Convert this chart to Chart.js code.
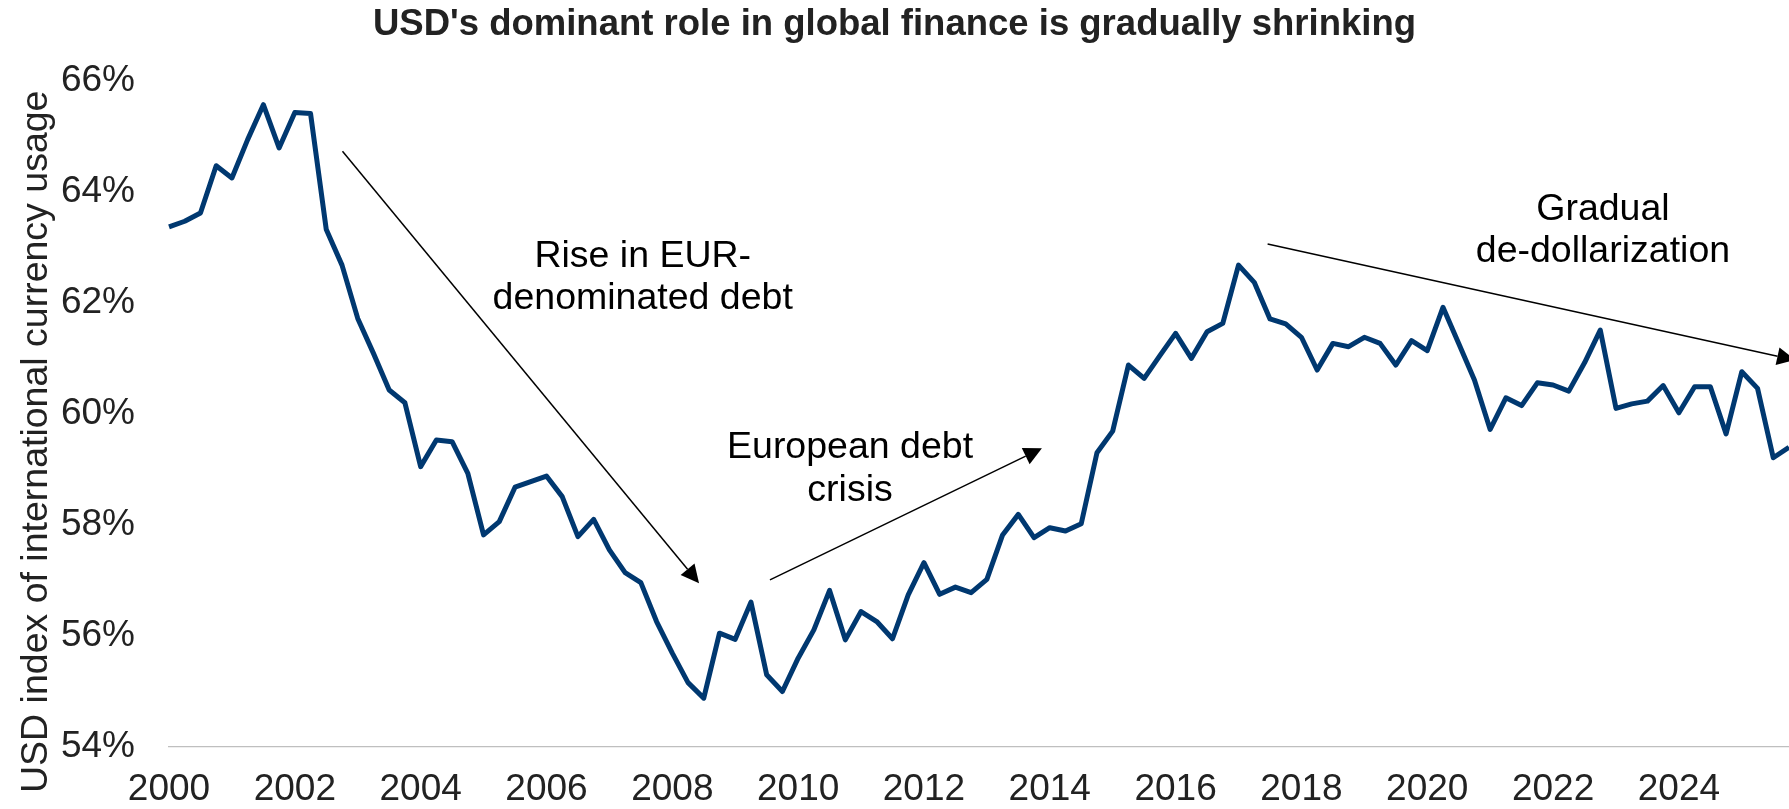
<!DOCTYPE html>
<html>
<head>
<meta charset="utf-8">
<title>USD index of international currency usage</title>
<script src="https://cdn.jsdelivr.net/npm/chart.js@4.4.1/dist/chart.umd.min.js"></script>
<style>
  html, body { margin: 0; padding: 0; background: #fff; }
  #wrap { width: 1789px; height: 809px; position: relative; }
</style>
</head>
<body>
<div id="wrap"><canvas id="usdChart"></canvas></div>
<script>
// quarterly series, 2000 Q1 .. 2025 Q4
const years = [2000, 2001, 2002, 2003, 2004, 2005, 2006, 2007, 2008, 2009, 2010, 2011, 2012,
               2013, 2014, 2015, 2016, 2017, 2018, 2019, 2020, 2021, 2022, 2023, 2024, 2025];
const quarters = years.flatMap(y => ['Q1', 'Q2', 'Q3', 'Q4'].map(q => y + ' ' + q));

// USD index of international currency usage, %
const usdShare = [
  63.37, 63.47, 63.62, 64.47, 64.25, 64.94, 65.57, 64.79, 65.43, 65.41,
  63.32, 62.68, 61.72, 61.09, 60.43, 60.20, 59.05, 59.53, 59.50, 58.93,
  57.82, 58.06, 58.68, 58.78, 58.88, 58.51, 57.79, 58.10, 57.55, 57.14,
  56.96, 56.26, 55.69, 55.16, 54.88, 56.05, 55.94, 56.61, 55.30, 55.00,
  55.60, 56.11, 56.82, 55.93, 56.44, 56.26, 55.95, 56.74, 57.32, 56.75,
  56.88, 56.78, 57.02, 57.82, 58.19, 57.77, 57.95, 57.89, 58.02, 59.30,
  59.69, 60.88, 60.64, 61.05, 61.45, 61.00, 61.48, 61.63, 62.68, 62.37,
  61.71, 61.62, 61.38, 60.79, 61.27, 61.21, 61.38, 61.27, 60.88, 61.32,
  61.14, 61.92, 61.27, 60.61, 59.72, 60.29, 60.15, 60.56, 60.52, 60.41,
  60.92, 61.51, 60.10, 60.18, 60.23, 60.51, 60.02, 60.49, 60.49, 59.64,
  60.76, 60.46, 59.21, 59.40
];

// year labels, one every 8 quarters
const tickYears = ['2000', '2002', '2004', '2006', '2008', '2010', '2012',
                   '2014', '2016', '2018', '2020', '2022', '2024'];

// callouts, anchored in (quarter index, %) units
const notes = [
  { lines: ['Rise in EUR-', 'denominated debt'], x: 30.12, y: 62.65 },
  { lines: ['European debt', 'crisis'], x: 43.3, y: 59.20 },
  { lines: ['Gradual', 'de-dollarization'], x: 91.17, y: 63.50 }
];
const arrows = [
  { from: [11.03, 64.73], to: [33.70, 56.95] },
  { from: [38.21, 57.01], to: [55.50, 59.38] },
  { from: [69.85, 63.06], to: [103.39, 60.97] }
];

const FONT = '"Liberation Sans", Arial, sans-serif';
Chart.defaults.font.family = FONT;

const callouts = {
  id: 'callouts',
  afterDatasetsDraw(chart) {
    const { ctx, chartArea, scales: { x, y } } = chart;
    ctx.save();
    ctx.strokeStyle = '#000';
    ctx.fillStyle = '#000';
    ctx.lineWidth = 1.5;
    const head = 18, half = 9;
    arrows.forEach(a => {
      const x0 = x.getPixelForValue(a.from[0]), y0 = y.getPixelForValue(a.from[1]);
      const x1 = x.getPixelForValue(a.to[0]), y1 = y.getPixelForValue(a.to[1]);
      const ang = Math.atan2(y1 - y0, x1 - x0);
      const c = Math.cos(ang), s = Math.sin(ang);
      const bx = x1 - head * c, by = y1 - head * s;
      ctx.beginPath();
      ctx.moveTo(x0, y0);
      ctx.lineTo(bx, by);
      ctx.stroke();
      ctx.beginPath();
      ctx.moveTo(x1, y1);
      ctx.lineTo(bx + half * s, by - half * c);
      ctx.lineTo(bx - half * s, by + half * c);
      ctx.closePath();
      ctx.fill();
    });

    ctx.font = '37.5px ' + FONT;
    ctx.textAlign = 'center';
    ctx.textBaseline = 'alphabetic';
    notes.forEach(n => {
      const px = x.getPixelForValue(n.x), py = y.getPixelForValue(n.y);
      n.lines.forEach((t, k) => ctx.fillText(t, px, py + k * 42.5));
    });

    // y-axis title, reading upwards from just under the axis line
    ctx.fillStyle = '#222';
    ctx.translate(47, chartArea.bottom + 46);
    ctx.rotate(-Math.PI / 2);
    ctx.textAlign = 'left';
    ctx.fillText('USD index of international currency usage', 0, 0);
    ctx.restore();
  }
};

new Chart(document.getElementById('usdChart'), {
  type: 'line',
  data: {
    labels: quarters,
    datasets: [{
      label: 'USD share',
      data: usdShare,
      borderColor: '#003870',
      borderWidth: 5,
      borderJoinStyle: 'round',
      pointRadius: 0,
      tension: 0,
      fill: false
    }]
  },
  options: {
    responsive: true,
    maintainAspectRatio: false,
    animation: false,
    layout: { padding: 0, autoPadding: false },
    plugins: {
      legend: { display: false },
      tooltip: { enabled: false },
      title: {
        display: true,
        text: "USD's dominant role in global finance is gradually shrinking",
        color: '#222',
        font: { size: 36.5, weight: 'bold' },
        padding: { top: 3, bottom: 34 }
      }
    },
    scales: {
      x: {
        type: 'category',
        offset: false,
        grid: { display: false, drawTicks: false },
        border: { display: true, color: '#bfbfbf', width: 1.3 },
        ticks: {
          autoSkip: false,
          maxRotation: 0,
          padding: 0,
          color: '#222',
          // tall line box drops the year labels below the axis line
          font: { size: 37, lineHeight: 2.32 },
          callback: (val, i) => (i % 8 === 0 ? tickYears[i / 8] : '')
        },
        afterFit: scale => { scale.height = 62; }
      },
      y: {
        min: 54,
        max: 66,
        grid: { display: false, drawTicks: false },
        border: { display: false },
        ticks: {
          stepSize: 2,
          padding: 34,
          color: '#222',
          font: { size: 37 },
          callback: v => v + '%'
        },
        afterFit: scale => { scale.width = 169; }
      }
    }
  },
  plugins: [callouts]
});
</script>
</body>
</html>
